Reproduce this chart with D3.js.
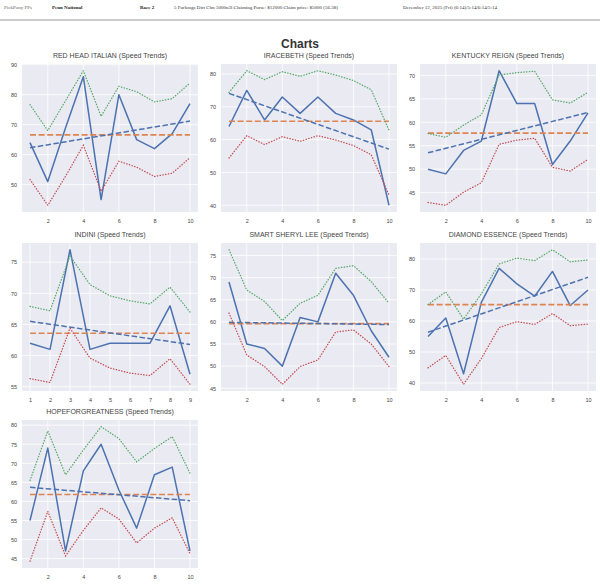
<!DOCTYPE html>
<html><head><meta charset="utf-8">
<script src="https://cdn.jsdelivr.net/npm/d3@7"></script>
<style>body{margin:0;background:#fff}svg{display:block}</style>
</head><body>
<svg id="c" width="600" height="588"></svg>
<script>
const names = ["RED HEAD ITALIAN","IRACEBETH","KENTUCKY REIGN","INDINI","SMART SHERYL LEE","DIAMOND ESSENCE","HOPEFORGREATNESS"];
const speedRHI = [64,51,69,86,45,80,65,62,67,77];
const speedIRA = [64,75,66,73,68,73,68,66,63,40];
const speedKR  = [50,49,54,56,71,64,64,51,56,62];
const speedIND = [62,61,77,61,62,62,62,68,57];
const speedSSL = [69,55,54,50,61,60,71,66,58,52];
const speedDE  = [55,61,43,66,77,72,68,76,65,70];
const speedHOPE= [55,74,47,68,75,63,53,67,69,47];
const upperRHI = [76.7,68,78,88,72.8,82.8,81,77.6,78.7,83.9];
const upperIRA = [74.4,81,78.3,80.7,79.3,81,79.7,78,75.2,62.9];
const upperKR  = [57.6,56.8,59.4,61.6,70.1,70.6,70.9,64.8,64.1,66.4];
const upperIND = [67.9,67.2,76,71.4,69.6,68.8,68.3,71,67];
const upperSSL = [76.3,67.2,64.6,60.3,64.2,66,72.1,72.7,69.1,64.2];
const upperDE  = [65.3,69.4,60.6,68.8,78.4,80.3,79.5,83,79.1,79.7];
const upperHOPE= [65.5,78.5,67,73.5,79.6,76.5,70.4,73.9,77,67.4];
const lowerRHI = [51.7,43.1,52.8,63.1,47.8,57.8,55.8,52.7,53.8,59.0];
const lowerIRA = [54.4,61.2,58.5,60.9,59.5,61.2,59.9,58.2,55.4,43.1];
const lowerKR  = [42.9,42.3,45.1,47.1,55.3,56.2,56.6,50.4,49.6,52.1];
const lowerIND = [56.3,55.7,64.4,59.6,58.0,57.2,56.8,59.5,55.4];
const lowerSSL = [62.0,52.5,49.9,45.9,49.9,51.4,57.7,58.2,55.0,49.9];
const lowerDE  = [44.9,48.9,39.6,47.9,57.9,59.8,58.9,62.4,58.5,59.0];
const lowerHOPE= [44.3,57.4,45.7,52.4,58.3,55.4,49.1,53.0,55.7,46.3];
const means = [66.6,65.6,57.7,63.6,59.6,65.3,61.8];
const trendStart = [62.3,74.1,53.5,65.5,59.9,56.4,63.7];
const trendEnd   = [71.2,57.1,62.1,61.8,59.4,74.1,60.2];
const xTicks10 = [2,4,6,8,10];
const xTicks9 = [1,2,3,4,5,6,7,8,9];
const yTicksList = [[50,60,70,80,90],[40,50,60,70,80],[45,50,55,60,65,70],[55,60,65,70,75],[45,50,55,60,65,70,75],[40,50,60,70,80],[45,50,55,60,65,70,75,80]];
const speeds = [speedRHI,speedIRA,speedKR,speedIND,speedSSL,speedDE,speedHOPE];
const uppers = [upperRHI,upperIRA,upperKR,upperIND,upperSSL,upperDE,upperHOPE];
const lowers = [lowerRHI,lowerIRA,lowerKR,lowerIND,lowerSSL,lowerDE,lowerHOPE];

const svg = d3.select("#c");
const sans = "Liberation Sans, Arial, sans-serif";
// header
const hdr = svg.append("g").attr("font-family","Liberation Serif, Times New Roman, serif").attr("font-size",5).attr("fill","#333");
hdr.append("text").attr("x",4).attr("y",9).attr("fill","#666").text("PickPony PPs");
hdr.append("text").attr("x",52).attr("y",9).attr("font-weight","bold").attr("fill","#222").text("Penn National");
hdr.append("text").attr("x",140).attr("y",9).attr("font-weight","bold").attr("fill","#222").text("Race 2");
hdr.append("text").attr("x",174).attr("y",9).text("5 Furlongs Dirt Clm 5000n3l Claiming Purse: $12000 Claim price: $5000 (56.38)");
hdr.append("text").attr("x",403).attr("y",9).text("December 12, 2025 (Fri) (6:14)/5:14/6:14/5:14");
svg.append("line").attr("x1",0).attr("x2",600).attr("y1",20).attr("y2",20).attr("stroke","#bbb").attr("stroke-width",1.5);
svg.append("text").attr("x",300).attr("y",48).attr("text-anchor","middle").attr("font-family",sans)
  .attr("font-weight","bold").attr("font-size",12).attr("fill","#333").text("Charts");

const colL = [22,221,420], rowT = [64,243,420], W = 176, H = 148;
const blue="#4c72b0", orange="#dd8452", green="#55a868", red="#c44e52";

names.forEach((name,i)=>{
  const sp = speeds[i], up = uppers[i], lo = lowers[i];
  const n = sp.length;
  const idx = d3.range(1,n+1);
  const left = colL[i%3], top = rowT[Math.floor(i/3)];
  const all = sp.concat(up,lo,[means[i],trendStart[i],trendEnd[i]]);
  const [mn,mx] = d3.extent(all);
  const pad = (mx-mn)*0.05;
  const x = d3.scaleLinear().domain([1-(n-1)*0.05, n+(n-1)*0.05]).range([0,W]);
  const y = d3.scaleLinear().domain([mn-pad, mx+pad]).range([H,0]);
  const g = svg.append("g").attr("transform",`translate(${left},${top})`);
  g.append("rect").attr("width",W).attr("height",H).attr("fill","#eaeaf2");
  const xt = n===9 ? xTicks9 : xTicks10;
  const yt = yTicksList[i];
  g.selectAll(".gx").data(xt).join("line").attr("x1",d=>x(d)).attr("x2",d=>x(d)).attr("y1",0).attr("y2",H).attr("stroke","#fff").attr("stroke-width",0.8);
  g.selectAll(".gy").data(yt).join("line").attr("y1",d=>y(d)).attr("y2",d=>y(d)).attr("x1",0).attr("x2",W).attr("stroke","#fff").attr("stroke-width",0.8);
  const xa = g.append("g").attr("transform",`translate(0,${H})`).call(d3.axisBottom(x).tickValues(xt).tickSize(0).tickPadding(7));
  const ya = g.append("g").call(d3.axisLeft(y).tickValues(yt).tickSize(0).tickPadding(5));
  [xa,ya].forEach(a=>{a.select(".domain").remove();a.selectAll("text").attr("font-size",5.5).attr("fill","#444").attr("font-family",sans);});
  g.append("text").attr("x",W/2).attr("y",-6).attr("text-anchor","middle").attr("font-size",7).attr("fill","#444")
    .attr("font-family",sans).text(name+" (Speed Trends)");
  const line = d3.line().x((d,j)=>x(idx[j])).y(d=>y(d));
  g.append("path").attr("d",line(sp)).attr("fill","none").attr("stroke",blue).attr("stroke-width",1.5).attr("stroke-linejoin","round");
  g.append("line").attr("x1",x(1)).attr("x2",x(n)).attr("y1",y(means[i])).attr("y2",y(means[i])).attr("stroke",orange).attr("stroke-width",1.6).attr("stroke-dasharray","6,2.6");
  g.append("line").attr("x1",x(1)).attr("x2",x(n)).attr("y1",y(trendStart[i])).attr("y2",y(trendEnd[i])).attr("stroke",blue).attr("stroke-width",1.5).attr("stroke-dasharray","5.5,2.4");
  g.append("path").attr("d",line(up)).attr("fill","none").attr("stroke",green).attr("stroke-width",1.3).attr("stroke-linecap","round").attr("stroke-dasharray","0.4,2.4");
  g.append("path").attr("d",line(lo)).attr("fill","none").attr("stroke",red).attr("stroke-width",1.3).attr("stroke-linecap","round").attr("stroke-dasharray","0.4,2.4");
});
</script>
</body></html>
